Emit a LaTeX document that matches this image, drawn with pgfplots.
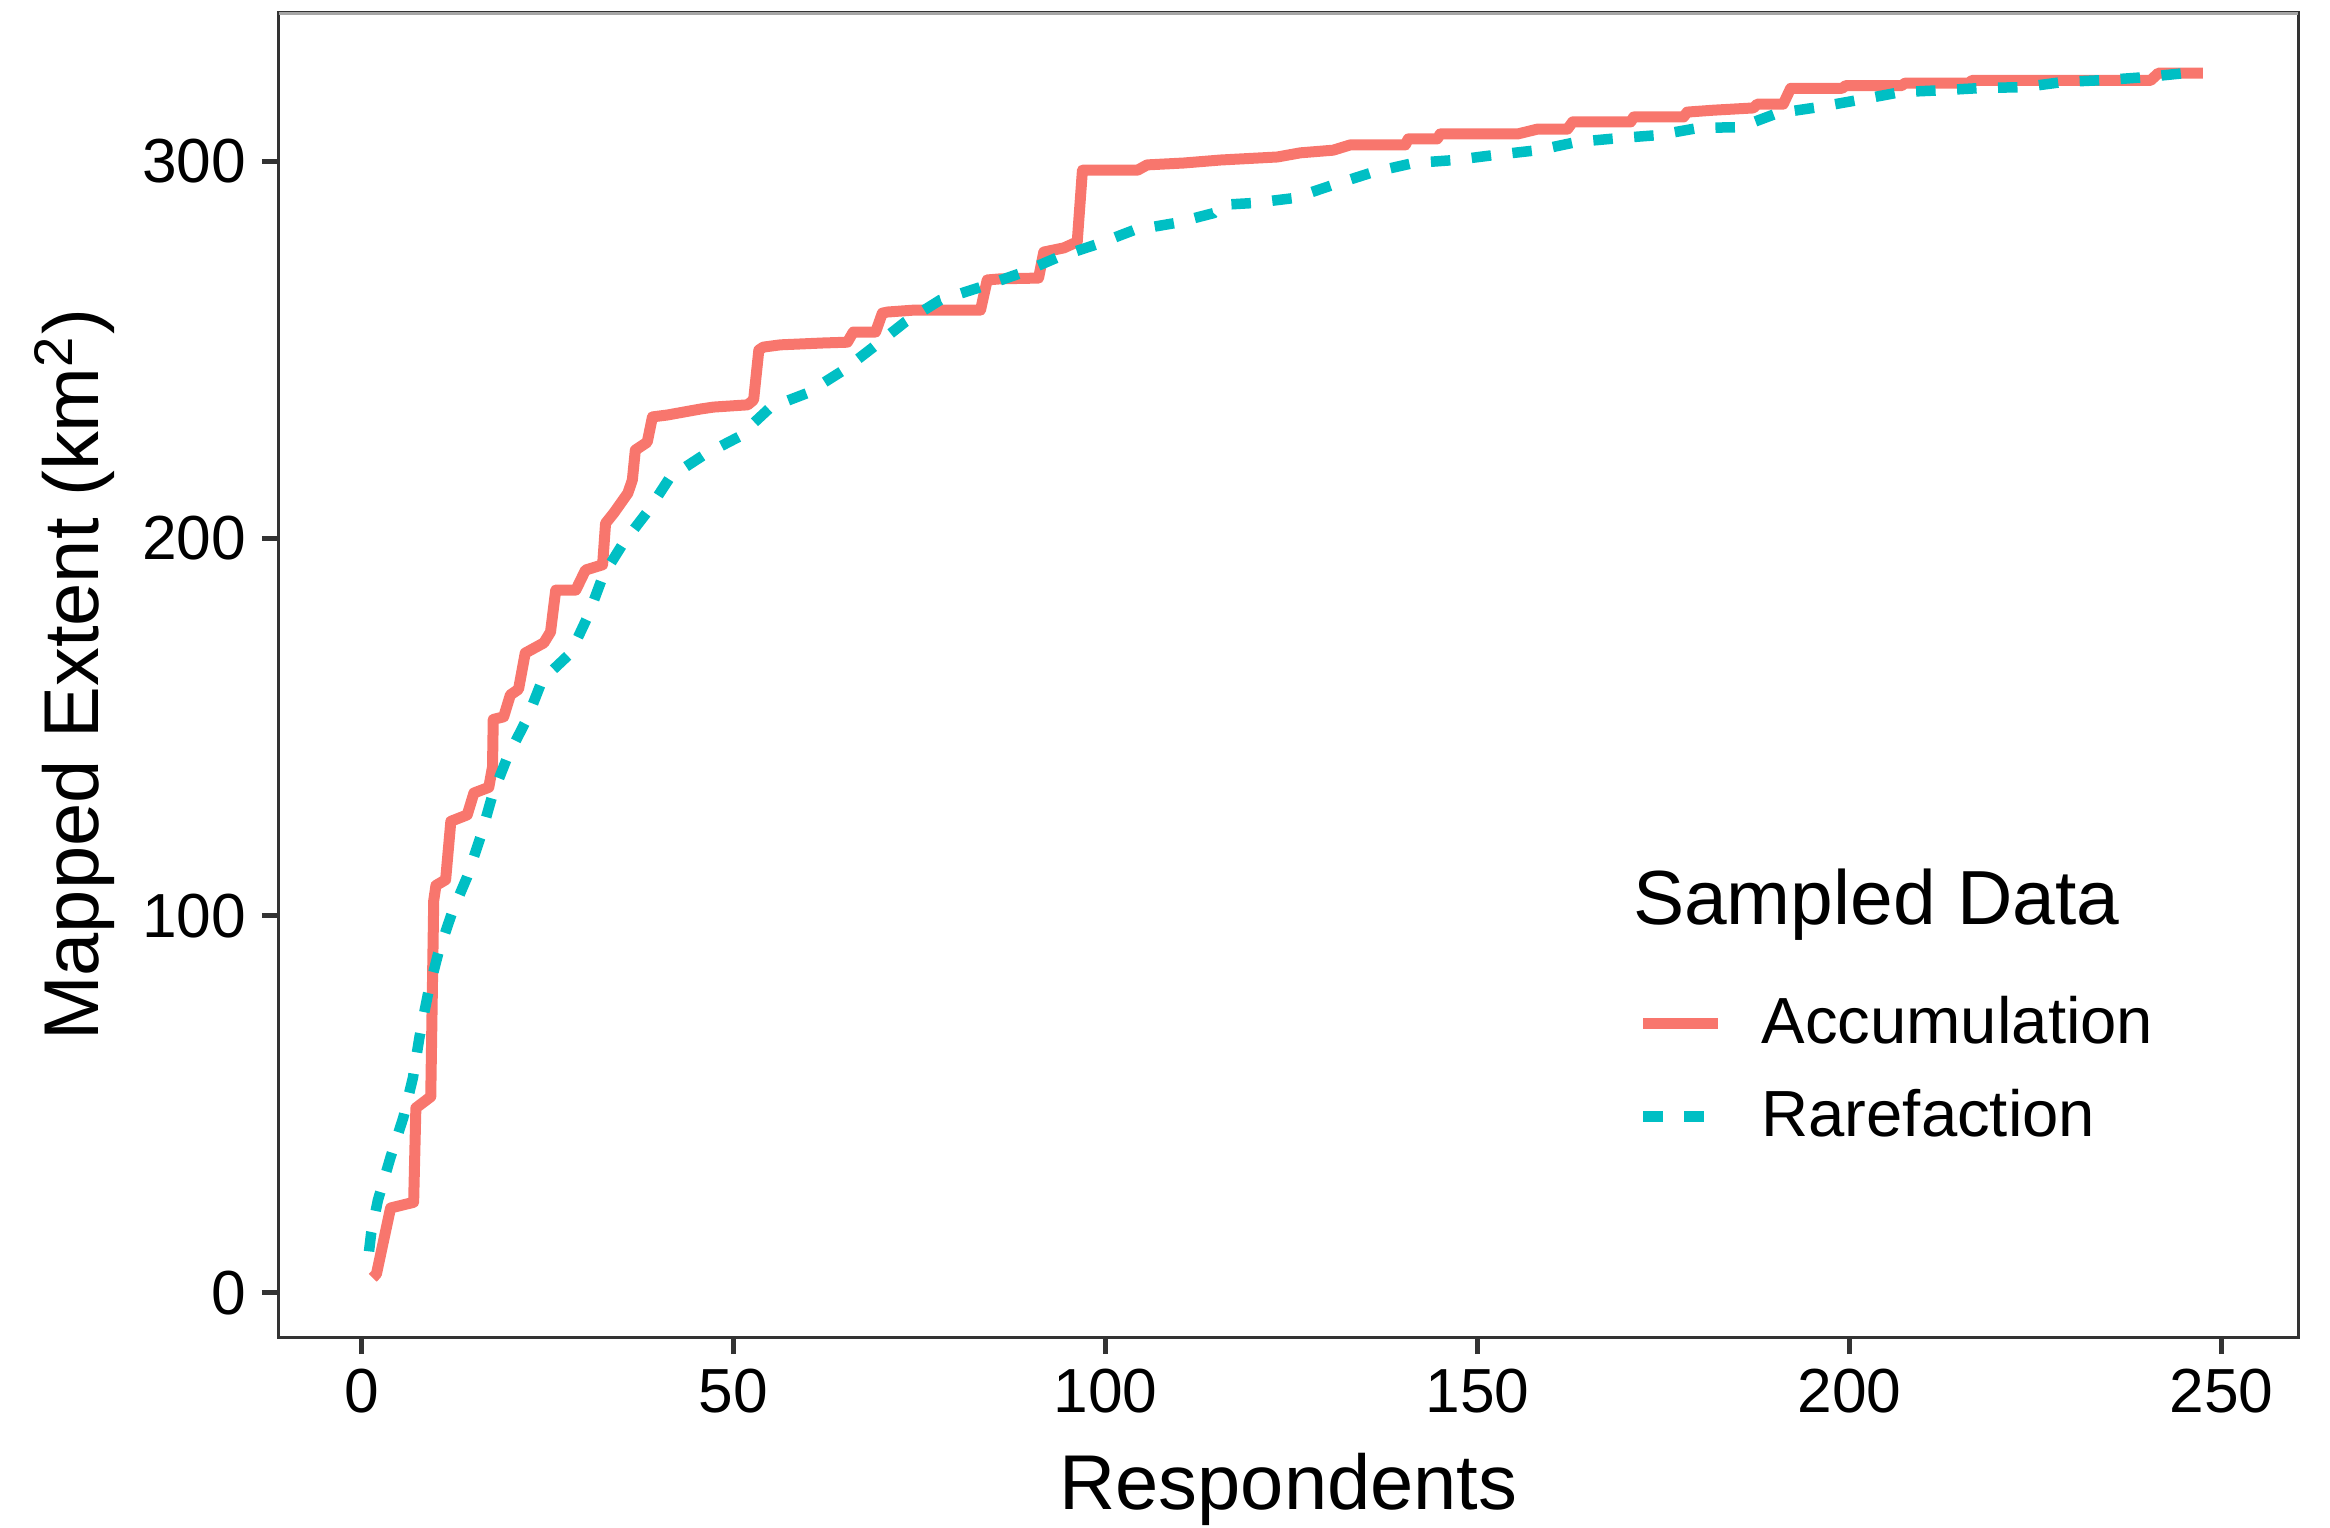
\documentclass[border=0pt]{standalone}
\usepackage{fontspec}
\setmainfont{Liberation Sans}
\usepackage{pgfplots}
\pgfplotsset{compat=1.18}

\definecolor{accum}{HTML}{F8766D}
\definecolor{raref}{HTML}{00BFC4}
\definecolor{frame}{HTML}{333333}

\begin{document}
\begin{tikzpicture}
\begin{axis}[
    scale only axis,
    width=403.8bp, height=264.9bp,
    xmin=-11.1, xmax=260.3,
    ymin=-11.7, ymax=339.4,
    xtick={0,50,100,150,200,250},
    ytick={0,100,200,300},
    xtick pos=bottom, ytick pos=left,
    tick align=outside,
    major tick length=3.4bp,
    tick style={color=frame, line width=1.05bp},
    axis line style={color=frame, line width=0.6bp},
    /pgf/number format/assume math mode=true,
    ticklabel style={font=\fontsize{12.5}{14}\selectfont, inner sep=0pt},
    xticklabel style={anchor=north, yshift=-2.8bp},
    yticklabel style={anchor=east, xshift=-3bp},
    xlabel={Respondents},
    ylabel={Mapped Extent (km\textsuperscript{2})},
    label style={font=\fontsize{15.6}{18}\selectfont},
    xlabel style={at={(rel axis cs:0.5,-0.1299)}, anchor=base},
    ylabel style={at={(rel axis cs:-0.0896,0.5)}, anchor=base},
    legend style={at={(rel axis cs:0.6724,0.2658)}, anchor=north west,
        draw=none, fill=none, inner sep=0pt,
        font=\fontsize{13.1}{15}\selectfont, row sep=3.7bp,
        /tikz/every odd column/.append style={column sep=5.6bp}},
    legend cell align=left,
    legend image code/.code={\draw[#1] (0bp,0bp) -- (15bp,0bp);},
]

% accumulation curve
\addplot[accum, line width=2.2bp, line join=round] coordinates {
(1.5,4) (2,5) (3.9,22.5) (7,24) (7.3,49) (9.3,52) (9.7,104) (10,108)
(11.3,109.5) (12,125) (14.2,126.7) (15.1,132.5) (17.1,134) (17.6,139.4)
(17.7,152) (19.1,152.7) (20,158.5) (21.1,160) (22,169.6) (24.5,172.3)
(25.4,175.2) (26.1,186.3) (28.8,186.3) (30.1,191.6) (32.4,193) (32.8,204)
(33.9,206.7) (35.8,212) (36.4,215.5) (36.8,223.4) (38.4,225.5) (39.1,232.2)
(41.1,232.7) (45.6,234.3) (47.3,234.8) (51.9,235.4) (52.7,236.7) (53.4,249.9)
(54,250.7) (56.3,251.3) (62.1,251.8) (65.3,252) (66.1,254.7) (69.1,254.7)
(70,259.7) (70.7,260) (74.2,260.5) (83.2,260.5) (84.1,268.5) (85.9,268.8)
(91,269) (91.7,275.9) (94.4,277) (96.2,278.6) (96.9,297.6) (104.3,297.6)
(105.6,299) (110.5,299.5) (115.5,300.3) (123.1,301.1) (126.2,302.2)
(130.6,302.9) (132.9,304.3) (140.3,304.3) (140.7,305.9) (144.6,305.9)
(145,307.2) (155.4,307.2) (158.1,308.5) (162.1,308.5) (162.8,310.4)
(170.6,310.4) (171,311.7) (177.7,311.7) (178.2,313) (181.7,313.5)
(187.1,314.1) (187.6,315.1) (191.1,315.1) (192.1,319.3) (199,319.3)
(199.5,320) (207,320) (207.5,320.7) (216,320.7) (216.5,321.4) (240.5,321.4)
(241.5,323.3) (247.5,323.3)
};
\addlegendentry{Accumulation}

% rarefaction curve
\addplot[raref, line width=2.1bp, dash pattern=on 3.9bp off 4.3bp] coordinates {
(1,11) (1.3,16) (2.2,24.6) (3.9,36) (5.6,46.4) (6.9,57) (7.8,68) (8.9,79)
(10.3,90) (12.2,101) (14.2,110.3) (16,120.9) (17.6,132) (19.6,142)
(22.3,152.4) (24.3,162.5) (28.1,169.6) (30.5,179.7) (32.5,190.3)
(35.2,198.8) (38.6,207.5) (41.5,216.3) (46,222.1) (50.7,226.9) (55,234.8)
(59.9,238.5) (64.8,244.6) (68.8,250.7) (73.1,257.4) (77.8,263.2)
(83.2,266.6) (88.6,270.3) (93.7,274.6) (98.9,278) (103.8,281.7)
(109.4,283.6) (114.5,286.2) (115.5,288.4) (119.9,288.9) (125.3,290.2)
(130.6,293.7) (136,297.1) (141.4,299.5) (147,300.3) (152.2,301.6)
(158.1,302.9) (163.4,305.1) (169,306.1) (174.3,306.9) (179.7,308.8)
(185.3,309) (190.3,312.7) (195.8,314.3) (201.2,316.2) (206.9,318.3)
(212.5,318.8) (217.9,319.4) (223.4,319.6) (228.8,321) (234.4,321.5)
(240,322.3) (245.4,323.4) (247,323.4)
};
\addlegendentry{Rarefaction}

\node[anchor=base west, inner sep=0pt, font=\fontsize{15.4}{18}\selectfont]
  at (rel axis cs:0.6702,0.3111) {Sampled Data};
\draw[color=black!35, line width=1bp] (rel axis cs:0,1) -- (rel axis cs:1,1);
\coordinate (sw) at (rel axis cs:0,0);
\coordinate (ne) at (rel axis cs:1,1);
\end{axis}
\pgfresetboundingbox
\path[use as bounding box] ([xshift=-55.8bp,yshift=-38.2bp]sw) rectangle ([xshift=6.4bp,yshift=2.5bp]ne);
\end{tikzpicture}
\end{document}
